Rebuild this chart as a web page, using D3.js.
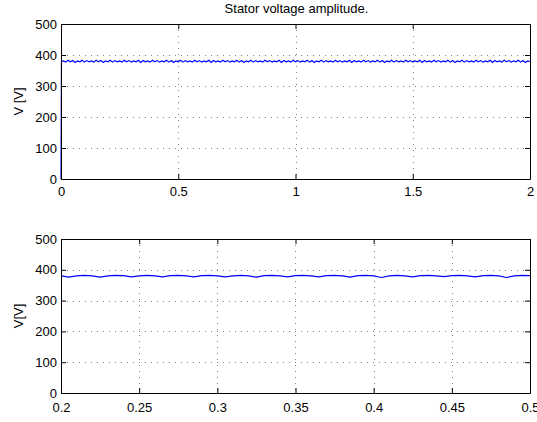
<!DOCTYPE html>
<html>
<head>
<meta charset="utf-8">
<script src="https://cdn.jsdelivr.net/npm/d3@7"></script>
<style>
  html, body { margin: 0; padding: 0; background: #fff; }
  svg { display: block; font-family: "Liberation Sans", Arial, Helvetica, sans-serif; }
</style>
</head>
<body>
<svg id="chart" width="537" height="422"></svg>
<script>
// Stator voltage amplitude, full run (0..2 s) sampled every 10 ms after start-up
const overviewStart = [[0, 0], [0.002, 380]];
const overviewStep = 0.01;
const overviewValues = [
  381,377,383,378,382,376,381,378,383,377, 382,378,381,377,383,378,382,376,381,378,
  383,377,382,378,381,377,383,378,382,377, 381,378,383,376,382,378,381,377,383,378,
  382,377,381,378,383,377,382,376,381,378, 383,377,382,378,381,377,383,378,382,377,
  381,378,383,376,382,378,381,377,383,378, 382,377,381,378,383,377,382,376,381,378,
  383,377,382,378,381,377,383,378,382,377, 381,378,383,376,382,378,381,377,383,378,
  382,377,381,378,383,377,382,376,381,378, 383,377,382,378,381,377,383,378,382,377,
  381,378,383,376,382,378,381,377,383,378, 382,377,381,378,383,377,382,376,381,378,
  383,377,382,378,381,377,383,378,382,377, 381,378,383,376,382,378,381,377,383,378,
  382,377,381,378,383,377,382,376,381,378, 383,377,382,378,381,377,383,378,382,377,
  381,378,383,376,382,378,381,377,383,378, 382,377,381,378,383,377,382,376,381,379
];

// Zoomed window 0.2..0.5 s, sampled every 5 ms
const detailStart = 0.2;
const detailStep = 0.005;
const detailValues = [
  380,376,380,382,380,376,380,382,381,377,
  380,382,380,377,381,382,380,377,381,382,
  380,377,380,382,380,376,381,382,380,377,
  381,382,380,377,381,382,380,376,381,382,
  380,375,380,382,380,377,381,382,380,378,
  381,382,380,377,381,382,380,375,380,382,
  381
];

const overviewTicksX = [0, 0.5, 1, 1.5, 2];
const detailTicksX = [0.2, 0.25, 0.3, 0.35, 0.4, 0.45, 0.5];
const ticksY = [0, 100, 200, 300, 400, 500];

const overviewData = overviewStart.concat(
  overviewValues.map((v, i) => [(i + 1) * overviewStep, v])
);
const detailData = detailValues.map((v, i) => [detailStart + i * detailStep, v]);

const svg = d3.select("#chart");
const FONT = 13;

function panel(opts) {
  const { left, right, top, bottom, xDomain, xTicks, xPad, data, yLabel, title } = opts;
  const x = d3.scaleLinear().domain(xDomain).range([left, right]);
  const y = d3.scaleLinear().domain([0, 500]).range([bottom, top]);
  const g = svg.append("g");

  g.append("rect").attr("x", left).attr("y", top)
    .attr("width", right - left).attr("height", bottom - top).attr("fill", "#fff");

  // dotted grid
  const grid = g.append("g").attr("stroke", "#000").attr("stroke-width", 1)
    .attr("stroke-dasharray", "1,5").attr("stroke-opacity", 0.5);
  xTicks.slice(1, -1).forEach(t => {
    const px = Math.round(x(t)) + 0.5;
    grid.append("line").attr("x1", px).attr("x2", px).attr("y1", top).attr("y2", bottom);
  });
  ticksY.slice(1, -1).forEach(t => {
    const py = Math.round(y(t)) + 0.5;
    grid.append("line").attr("y1", py).attr("y2", py).attr("x1", left).attr("x2", right);
  });

  // signal
  g.append("path").datum(data)
    .attr("fill", "none").attr("stroke", "#0000ff").attr("stroke-width", 1.2)
    .attr("d", d3.line().x(d => x(d[0])).y(d => y(d[1])));

  // box axes, ticks pointing inward on all four sides
  const tl = 5;
  const fmt = d3.format("~g");
  g.append("g").attr("transform", `translate(0,${bottom})`)
    .call(d3.axisBottom(x).tickValues(xTicks).tickSize(-tl).tickSizeOuter(0)
      .tickPadding(xPad).tickFormat(fmt));
  g.append("g").attr("transform", `translate(0,${top})`)
    .call(d3.axisTop(x).tickValues(xTicks).tickSize(-tl).tickSizeOuter(0).tickFormat(""));
  g.append("g").attr("transform", `translate(${left},0)`)
    .call(d3.axisLeft(y).tickValues(ticksY).tickSize(-tl).tickSizeOuter(0)
      .tickPadding(4).tickFormat(d3.format("d")));
  g.append("g").attr("transform", `translate(${right},0)`)
    .call(d3.axisRight(y).tickValues(ticksY).tickSize(-tl).tickSizeOuter(0).tickFormat(""));

  g.selectAll(".domain").attr("stroke", "#000").attr("stroke-width", 1);
  g.selectAll(".tick line").attr("stroke", "#000");
  g.selectAll(".tick text").attr("fill", "#000").attr("font-size", FONT)
    .attr("font-family", "'Liberation Sans', Arial, sans-serif");

  g.append("text")
    .attr("transform", `translate(23,${(top + bottom) / 2}) rotate(-90)`)
    .attr("text-anchor", "middle").attr("font-size", FONT).text(yLabel);

  if (title) {
    g.append("text").attr("x", (left + right) / 2 + 1).attr("y", 13)
      .attr("text-anchor", "middle").attr("font-size", FONT).text(title);
  }
}

panel({
  left: 61, right: 530, top: 24, bottom: 179,
  xDomain: [0, 2], xTicks: overviewTicksX, xPad: 8,
  data: overviewData, yLabel: "V [V]", title: "Stator voltage amplitude."
});

panel({
  left: 61, right: 530, top: 239, bottom: 393,
  xDomain: [0.2, 0.5], xTicks: detailTicksX, xPad: 10,
  data: detailData, yLabel: "V[V]"
});
</script>
</body>
</html>
